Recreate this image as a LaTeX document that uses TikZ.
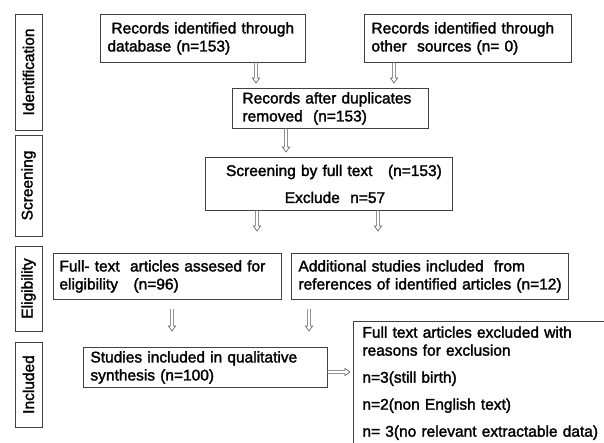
\documentclass[tikz,border=0pt]{standalone}
\usepackage{fontspec}
\setmainfont{Liberation Sans}[FakeBold=1.8]
\usetikzlibrary{calc}
\newcommand\fs{\fontsize{15.5}{18}\selectfont}
\tikzset{
  bx/.style={draw=black!75, line width=0.9pt, align=left, anchor=north west, inner ysep=0pt, font=\fs},
  lab/.style={draw=black!75, line width=0.9pt, rotate=90, minimum height=27pt, inner sep=0pt, font=\fs},
  arr/.style={draw=black!65, line width=0.6pt, fill=white}
}
\newcommand\varr[2]{\draw[arr] let \p1=(#1), \p2=(#2) in
  (\x1-1.6pt,\y1) -- (\x1-1.6pt,\y2+5pt) -- (\x1-3.6pt,\y2+5pt) -- (\x1,\y2)
  -- (\x1+3.6pt,\y2+5pt) -- (\x1+1.6pt,\y2+5pt) -- (\x1+1.6pt,\y1);}
\newcommand\harr[2]{\draw[arr] let \p1=(#1), \p2=(#2) in
  (\x1,\y1-1.6pt) -- (\x2-5pt,\y1-1.6pt) -- (\x2-5pt,\y1-3.6pt) -- (\x2,\y1)
  -- (\x2-5pt,\y1+3.6pt) -- (\x2-5pt,\y1+1.6pt) -- (\x1,\y1+1.6pt);}
\begin{document}
\begin{tikzpicture}[x=1pt,y=-1pt]
\clip (0,0) rectangle (604,442);
\fill[white] (0,0) rectangle (604,442);
% stage labels
\node[lab, minimum width=116pt] (L1) at (28.5,72) {Identification};
\node[lab, minimum width=101pt] (L2) at (28.5,185.5) {Screening};
\node[lab, minimum width=85pt] (L3) at (28.5,288.5) {Eligibility};
\node[lab, minimum width=85pt] (L4) at (28.5,384.5) {Included};
% boxes
\node[bx, inner xsep=7pt, text width=191pt, minimum height=48pt] (A) at (100,14)
  {\hspace{4pt}Records identified through\\database (n=153)};
\node[bx, inner xsep=7pt, text width=193pt, minimum height=48pt] (B) at (364,14)
  {Records identified through\\other\ \ sources (n= 0)};
\node[bx, inner xsep=10pt, text width=176pt, minimum height=40pt] (C) at (232,88)
  {Records after duplicates\\removed\ \ (n=153)};
\node[bx, align=center, inner xsep=7pt, text width=233pt, minimum height=53pt] (D) at (205,157)
  {\hspace{10pt}Screening by full text\ \ \ (n=153)\\[9pt]\hspace{12pt}Exclude\ \ n=57};
\node[bx, inner xsep=6pt, text width=216pt, minimum height=46pt] (E) at (53,253)
  {Full- text\ \ articles assesed for\\eligibility\ \ \ (n=96)};
\node[bx, inner xsep=7pt, text width=263pt, minimum height=46pt] (F) at (291,253)
  {Additional studies included\ \ from\\\mbox{references of identified articles (n=12)}};
\node[bx, inner xsep=7pt, text width=230pt, minimum height=40pt] (G) at (83,347)
  {Studies included in qualitative\\synthesis (n=100)};
\node[bx, inner xsep=9pt, inner ysep=5pt, text width=252pt] (H) at (353,321)
  {Full text articles excluded with\\reasons for exclusion\\[9pt]n=3(still birth)\\[9pt]n=2(non English text)\\[9pt]\mbox{n= 3(no relevant extractable data)}\\[30pt]};
% arrow end points
\coordinate (a1) at (256,83);
\coordinate (b1) at (394,83);
\coordinate (c1) at (286,152);
\coordinate (d1) at (257,231);
\coordinate (d2) at (378,231);
\coordinate (e0) at (172,309);
\coordinate (e1) at (172,331);
\coordinate (f0) at (309,309);
\coordinate (f1) at (309,331);
\coordinate (g0) at (327,372);
\coordinate (g1) at (350,372);
\varr{A.south -| a1}{a1}
\varr{B.south -| b1}{b1}
\varr{C.south -| c1}{c1}
\varr{D.south -| d1}{d1}
\varr{D.south -| d2}{d2}
\varr{e0}{e1}
\varr{f0}{f1}
\harr{G.east |- g0}{g1}
\end{tikzpicture}
\end{document}
